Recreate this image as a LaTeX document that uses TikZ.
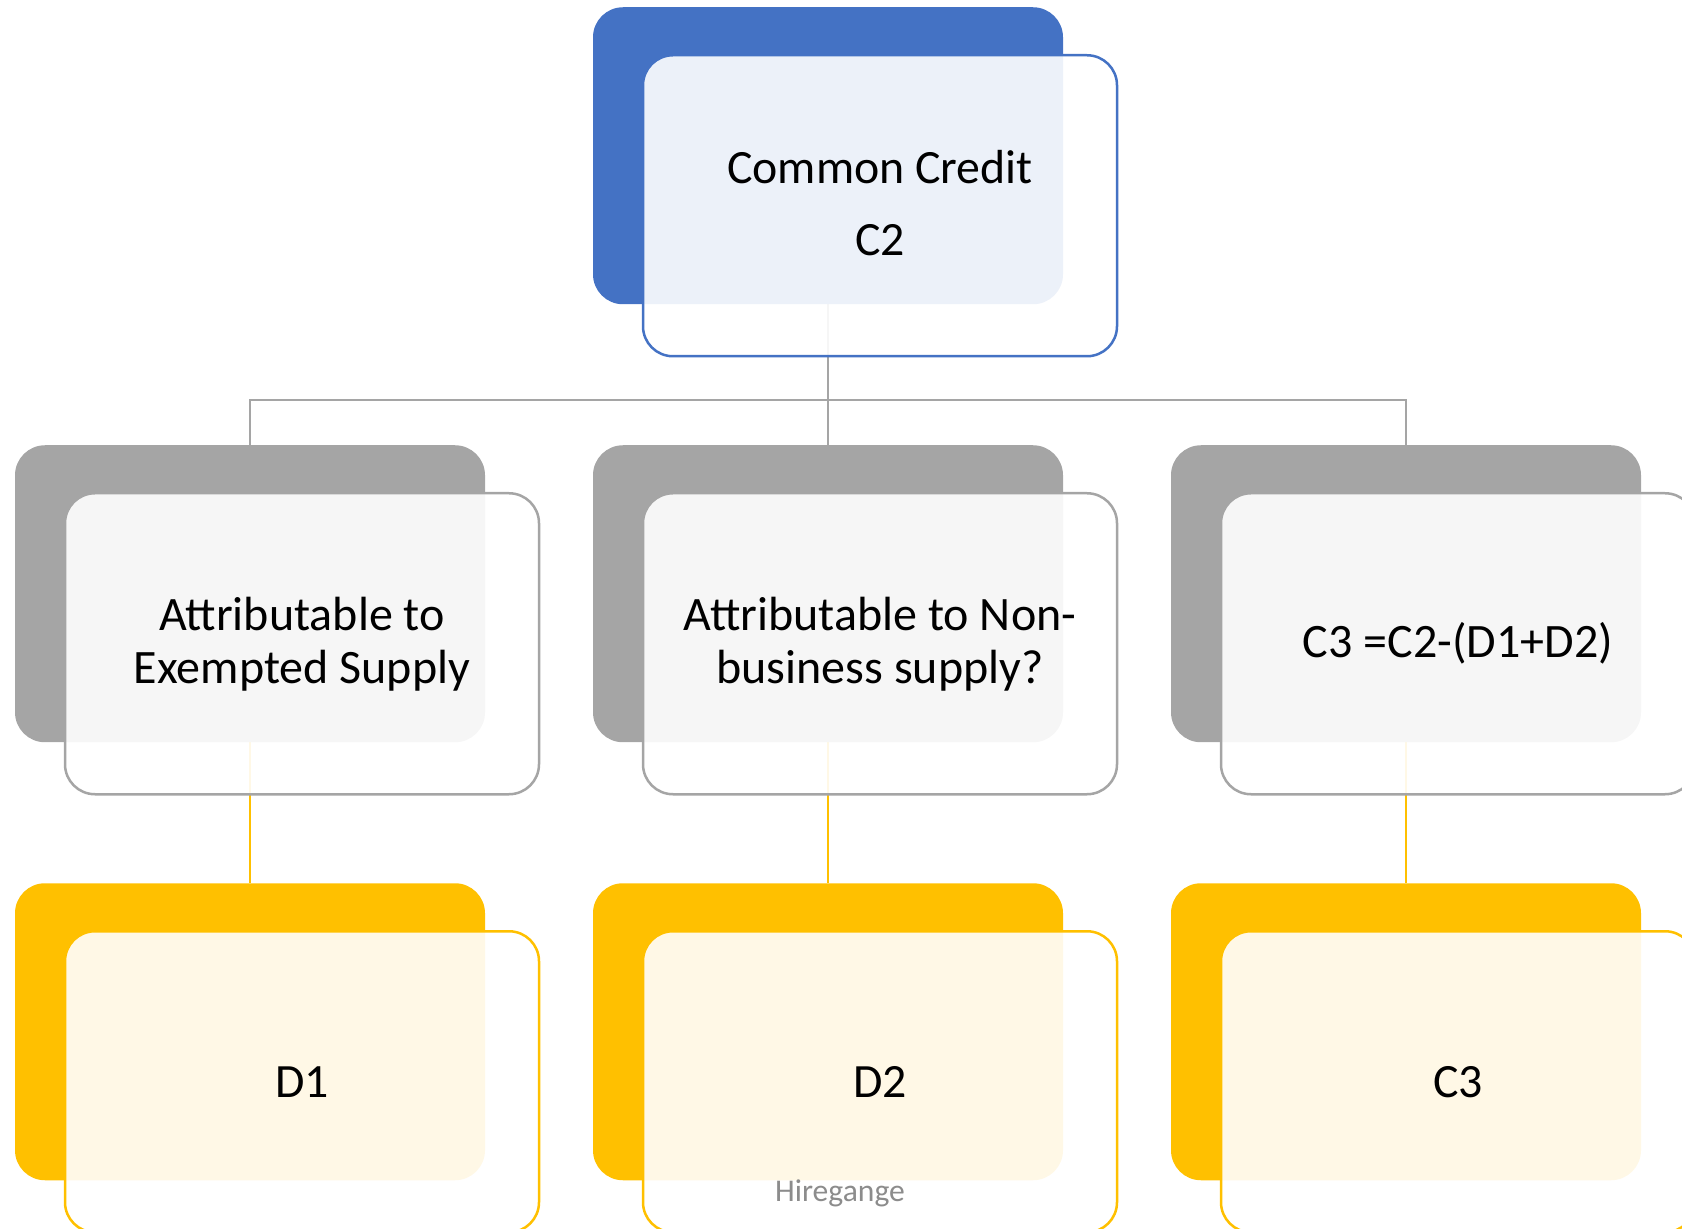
\documentclass[tikz,border=0pt]{standalone}
\usepackage{fontspec}
\setmainfont{Carlito}
\usepackage{tikz}
\usetikzlibrary{positioning, backgrounds}

\definecolor{accblue}{HTML}{4472C4}
\definecolor{accgray}{HTML}{A5A5A5}
\definecolor{accgold}{HTML}{FFC000}
\definecolor{markgray}{HTML}{8C8C8C}

\begin{document}
\begin{tikzpicture}[
  x=0.5pt, y=-0.5pt,
  backbox/.style={rectangle, rounded corners=15pt, minimum width=235pt, minimum height=148.5pt, inner sep=0pt, outer sep=0pt, fill=#1},
  frontbox/.style={rectangle, rounded corners=15pt, minimum width=237pt, minimum height=150.5pt, inner sep=0pt, outer sep=0pt, draw=#1, line width=1.25pt, fill=white, fill opacity=0.9, text opacity=1, text=black, align=center},
  bigtext/.style={font=\fontsize{23.9}{36}\selectfont},
  midtext/.style={font=\fontsize{24}{26.5}\selectfont},
  link/.style={draw=#1, line width=1.2pt}
]
  \useasboundingbox (0,0) rectangle (1682,1229);

  % back plates
  \node[backbox=accblue] (c2b) at (828,155.75) {};
  \node[backbox=accgray, below=70.5pt of c2b] (nonb) {};
  \node[backbox=accgray, left=54pt of nonb] (exb) {};
  \node[backbox=accgray, right=54pt of nonb] (restb) {};
  \node[backbox=accgold, below=70.5pt of exb] (d1b) {};
  \node[backbox=accgold, below=70.5pt of nonb] (d2b) {};
  \node[backbox=accgold, below=70.5pt of restb] (c3b) {};

  % front cards
  \node[frontbox=accblue, bigtext, text depth=3pt] (c2) at ([shift={(52,50)}]c2b) {Common Credit\\C2};
  \node[frontbox=accgray, midtext] (ex) at ([shift={(52,50)}]exb) {Attributable to\\Exempted Supply};
  \node[frontbox=accgray, midtext] (non) at ([shift={(52,50)}]nonb) {Attributable to Non-\\business supply?};
  \node[frontbox=accgray, midtext] (rest) at ([shift={(52,50)}]restb) {C3 =C2-(D1+D2)};
  \node[frontbox=accgold, bigtext] (d1) at ([shift={(52,50)}]d1b) {D1};
  \node[frontbox=accgold, bigtext] (d2) at ([shift={(52,50)}]d2b) {D2};
  \node[frontbox=accgold, bigtext] (c3) at ([shift={(52,50)}]c3b) {C3};

  \node[anchor=base, text=markgray, font=\fontsize{15.8}{19}\selectfont] (mark) at (840,1201) {Hiregange};

  % connectors
  \begin{pgfonlayer}{background}
    \draw[link=accgray] (c2b.south) -- (nonb.north);
    \draw[link=accgray] (c2b.south) ++(0,96) -| (exb.north);
    \draw[link=accgray] (c2b.south) ++(0,96) -| (restb.north);
    \draw[link=accgold] (exb.south) -- (d1b.north);
    \draw[link=accgold] (nonb.south) -- (d2b.north);
    \draw[link=accgold] (restb.south) -- (c3b.north);
  \end{pgfonlayer}
\end{tikzpicture}
\end{document}
